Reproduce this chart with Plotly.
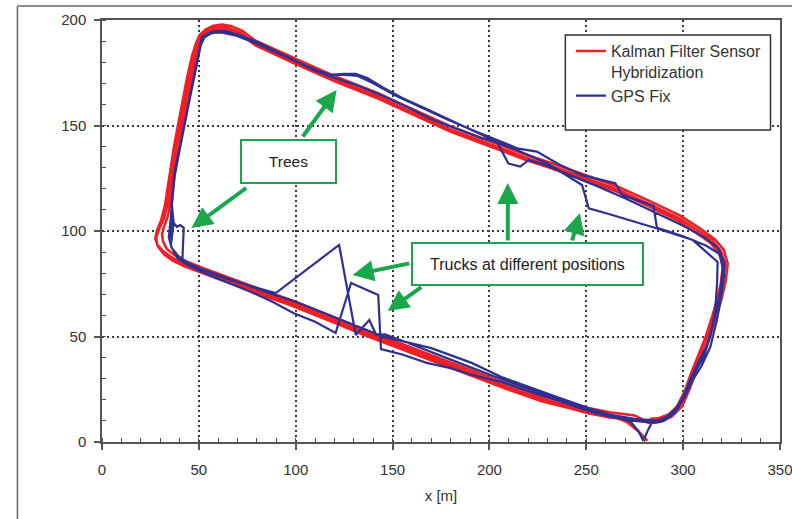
import plotly.graph_objects as go

# ---------------- data ----------------
x_ticks = [0, 50, 100, 150, 200, 250, 300, 350]
y_ticks = [0, 50, 100, 150, 200]

# Kalman filter trajectory, three laps (x [m], y [m])
red_lap1 = [(281.5, 0.5), (277, 5), (271, 9.5), (262, 12.8),
            (251, 14.8), (240, 17.5), (227, 20.5), (210, 26), (190, 33), (170, 40), (151, 46.5), (135, 52),
            (122, 57), (110, 61.5), (97.5, 66), (85, 70), (71.5, 74.5), (60, 78.5), (51, 81.5), (42, 84.5),
            (36, 87.5), (31.5, 90.5), (28.5, 93.5), (28, 97),
            (29.5, 101), (32, 106), (34, 113), (36.5, 129), (38.5, 140), (40.5, 150), (43, 162), (45.5, 174),
            (48, 184), (50, 189.5), (52, 193), (54.5, 195), (58, 196.5),
            (62, 196.8), (66, 196), (72, 193.5), (78.5, 189), (88, 185), (99, 180.5), (110, 176), (120, 172),
            (131, 168), (142, 164), (155, 158.5), (167, 153.5), (179, 148.5), (192, 144), (205, 139.5),
            (218, 135), (231, 131), (248, 125.5), (265, 120), (282, 113), (298, 106), (308, 100),
            (315, 95.5), (319.5, 90.5), (321.5, 84.5),
            (320.5, 76.5), (318.5, 68.5), (316, 60.5), (312.5, 50.5), (309, 42.5), (305.5, 34.5),
            (302, 25.5), (298, 17.5), (293, 13), (287, 10.8), (282, 10.5)]
red_lap2 = [(275, 10.3), (262, 11.6), (251, 13.6), (240, 16.3), (227, 19.3), (210, 24.8), (190, 31.8),
            (170, 38.8), (151, 45.3), (135, 50.8), (122, 55.8), (110, 60.3), (97.5, 64.8), (85, 68.8),
            (71.5, 73.3), (60, 77.3), (51, 80.3), (42.5, 83.3), (36.5, 86), (32, 89), (29, 92.5), (27.5, 96.5),
            (28.5, 100.5), (30.5, 105), (32.5, 112), (35, 128), (37, 139), (39, 149), (41.5, 161), (44, 173),
            (46.5, 183), (48.5, 189), (50.5, 193), (53.5, 195.5), (57.5, 197.3),
            (62, 197.8), (66.5, 197.2), (72.5, 194.8), (79, 190.3), (88.5, 186.3), (99.5, 181.8),
            (110.5, 177.3), (120.5, 173.3), (131.5, 169.3), (142.5, 165.3), (155.5, 159.8), (167.5, 154.8),
            (179.5, 149.8), (192.5, 145.3), (205.5, 140.8), (218.5, 136.3), (231.5, 132.3), (248.5, 126.8),
            (265.5, 121.3), (282.5, 114.3), (298.5, 107.3), (309, 101), (316.5, 96), (321, 91), (323, 84.5),
            (322, 76.5), (320, 68.5), (317.5, 60.5), (314, 50.5), (310.5, 42.5), (307, 34.5),
            (303.5, 25.5), (299.5, 17), (294, 12), (288, 9.5), (282, 9.2)]
red_lap3 = [(275, 12.6), (262, 14.1), (251, 16.1), (240, 18.8), (227, 21.8), (210, 27.3), (190, 34.3),
            (170, 41.3), (151, 47.8), (135, 53.3), (122, 58.3), (110, 62.8), (97.5, 67.3), (85, 71.3),
            (71.5, 75.8), (60, 79.8), (51, 82.8), (43, 85.8), (37.5, 88.5), (33.5, 91.5), (31.5, 95), (31, 98.5),
            (32, 102), (34, 107), (35.5, 114), (38, 130), (40, 141), (42, 151), (44.5, 163), (47, 175),
            (49.5, 185), (51.5, 190), (53.5, 193), (56, 194.8), (59.5, 195.5),
            (63, 195.6), (67, 194.8), (73, 192.2), (79.5, 187.8), (88.5, 183.8), (99.5, 179.3),
            (110.5, 174.8), (120.5, 170.8), (131.5, 166.8), (142.5, 162.8), (155.5, 157.3), (167.5, 152.3),
            (179.5, 147.3), (192.5, 142.8), (205.5, 138.3), (218.5, 133.8), (231.5, 129.8), (248.5, 124.3),
            (265.5, 118.8), (282, 111.8), (297.5, 104.8), (307, 99), (314, 94.5), (318.5, 89.5), (320.5, 83.5),
            (319.5, 75.5), (317.5, 67.5), (315, 59.5), (311.5, 49.5), (308, 41.5), (304.5, 33.5),
            (301, 24.5), (297, 17), (292.5, 13), (287, 11.2), (283, 11)]

# GPS fixes, three laps (x [m], y [m])
blue_lap1 = [(279.5, 0.5), (277, 5), (273, 9.5), (266, 12), (252, 15.5), (238, 19.5), (224, 24), (207, 29.5),
             (190, 35.5), (172, 42), (155, 48), (146, 51), (141.6, 50.7), (138, 57.8), (131, 50.7),
             (122.4, 93.4), (89.7, 70.6), (78, 73.5), (64, 77.5), (52, 81.5), (44.5, 84.5), (41.5, 86.3),
             (42.2, 101.5), (40.4, 102.8), (38.7, 102), (37, 103.8), (35.6, 93.4), (36.1, 112.3),
             (37.5, 126), (40, 138), (42.5, 150), (45, 162), (47.5, 174), (50, 186), (51.6, 192), (56, 194),
             (62, 194), (70, 192.5), (78, 190.5), (88, 186), (99, 181), (108, 177), (117, 174), (125, 174.5),
             (131, 174.5), (137, 172.5), (145, 168), (155, 163), (167, 158), (180, 152.5), (193, 147),
             (203.8, 142.3), (209.8, 132), (215.9, 130.5), (220.2, 133.6), (228, 131.5), (240, 127),
             (255, 121.5), (270, 115.5), (285, 109), (300, 102.5), (311, 97), (318, 92), (321.5, 85),
             (321, 78), (319.5, 68), (317.5, 58), (314, 45), (309.5, 36), (305, 29.4), (300.5, 21), (296, 14),
             (290, 10), (285, 9)]
blue_lap2 = [(275, 10), (262, 12), (250, 15), (236, 19.5), (222, 23.5), (206, 28.5), (190, 32), (180, 35),
             (167.6, 37.5), (155, 41.5), (144, 44), (142.6, 69.7), (128.6, 75.4), (120.6, 51.7), (110, 57),
             (99, 61), (88, 66.5), (76, 71.5), (64, 76), (53, 80), (45, 83.5), (39, 87), (35.5, 93),
             (37, 104), (36, 113), (37.5, 128), (40.5, 141), (43, 153), (46, 167), (48.5, 178), (50.5, 187),
             (52.5, 191.5), (56, 193.5), (61, 194.5), (68, 193), (78, 189.5), (89, 185), (100, 180.5),
             (110, 176.5), (118, 174), (126, 174), (132, 173.5), (140, 170), (152, 164), (165, 158.5),
             (178, 153), (192, 147.5), (205, 142.5), (215, 139), (224.5, 137.6), (236, 131.5),
             (247.8, 126.5), (265, 122.6), (268.6, 117), (284.6, 112), (286.5, 101.5), (300, 97.5),
             (312, 93), (319, 89), (320.5, 82), (319, 70), (316, 58), (312.5, 46), (307.5, 37), (303.5, 29),
             (299, 19), (293, 12.5), (287, 10), (281, 10.5)]
blue_lap3 = [(275, 11), (262, 13), (250, 16.5), (236, 21), (222, 25.5), (207, 30.5), (190.8, 37.5), (170, 44.5),
             (145.7, 49.8), (133, 54.5), (120, 59), (100, 66.5), (85, 71), (71.5, 75.3), (60, 79), (50, 82.5),
             (44, 85), (39, 88.5), (36, 92), (34.5, 97), (35.5, 106), (36.5, 118), (38, 130), (40.5, 141),
             (43.5, 155), (46.5, 168), (49, 180), (51, 188), (53, 192), (57, 194.5), (63, 195), (72, 192.5),
             (80, 189.5), (90, 185), (100, 180.5), (110, 176), (120, 172.5), (132, 169), (145, 164),
             (158, 158.5), (170, 153), (184, 148), (196, 144), (204, 142), (215, 138), (230, 132),
             (247.8, 121.8), (251.3, 110.7), (263.4, 107.6), (285.7, 101.4), (305, 95.7), (317.8, 85.3),
             (317.5, 75), (316.5, 62), (314, 50), (310.5, 40), (306, 33), (301, 23), (296, 15.5), (290, 11),
             (284, 9.5), (281.5, 5), (279.5, 0.5)]

series_names = ["Kalman Filter Sensor<br>Hybridization", "GPS Fix"]

# annotation boxes: (text, x, y, box width px, box height px, font size)
boxes = [("Trees", 96.1, 132.9, 97, 45, 15.5),
         ("Trucks at different positions", 219.6, 84.4, 233, 44, 16)]
# arrows: (tip x, tip y, tail x, tail y)
arrows = [(121.1, 166.8, 103.1, 144.1),
          (46.2, 101.4, 75.2, 120.9),
          (129.4, 79.1, 159.4, 84.8),
          (147.5, 62.1, 165.6, 73.9),
          (209.5, 122.7, 209.5, 94.8),
          (246.7, 108.5, 242.5, 94.8)]

# ---------------- figure ----------------
RED = "#ef1f26"
BLUE = "#2e3192"
GREEN = "#1aa64b"
AXIS = "#555555"

red_pts = red_lap1 + red_lap2 + red_lap3
blue_pts = blue_lap1 + blue_lap2 + blue_lap3

fig = go.Figure()
fig.add_trace(go.Scatter(x=[p[0] for p in red_pts], y=[p[1] for p in red_pts], mode="lines",
                         name=series_names[0], line=dict(color=RED, width=2.6)))
fig.add_trace(go.Scatter(x=[p[0] for p in blue_pts], y=[p[1] for p in blue_pts], mode="lines",
                         name=series_names[1], line=dict(color=BLUE, width=2.2)))

axis_common = dict(showgrid=True, gridcolor="#3a3a3a", griddash="2px,3px", gridwidth=1.7,
                   showline=True, linecolor=AXIS, linewidth=1.5, mirror=True,
                   ticks="outside", ticklen=6, tickwidth=1.5, tickcolor=AXIS,
                   zeroline=False, automargin=False, ticklabeloverflow="allow",
                   tickfont=dict(size=15, color="#333333"),
                   minor=dict(ticks="inside", ticklen=4, tickwidth=1.3, tickcolor=AXIS, showgrid=False))

fig.update_xaxes(range=[0, 350], tickvals=x_ticks, ticklabelstandoff=7,
                 title=dict(text="x [m]", font=dict(size=15, color="#333333"), standoff=14), **axis_common)
fig.update_xaxes(minor_dtick=10, minor_tick0=0)
fig.update_yaxes(range=[0, 200], tickvals=y_ticks, ticklabelstandoff=5, **axis_common)
fig.update_yaxes(minor_dtick=10, minor_tick0=0)

annotations = []
for tx, ty, ax, ay in arrows:
    annotations.append(dict(x=tx, y=ty, ax=ax, ay=ay, xref="x", yref="y", axref="x", ayref="y",
                            text="", showarrow=True, arrowhead=2, arrowsize=1.05, arrowwidth=4,
                            arrowcolor=GREEN, standoff=0))
for text, bx, by, bw, bh, fs in boxes:
    annotations.append(dict(x=bx, y=by, xref="x", yref="y", text=text, showarrow=False,
                            width=bw - 4, height=bh - 4, bgcolor="white", bordercolor=GREEN,
                            borderwidth=2, borderpad=0, font=dict(size=fs, color="#222222"),
                            align="center", valign="middle"))

shapes = [
    # legend frame
    dict(type="rect", xref="paper", yref="paper", x0=0.6834, x1=0.9860, y0=0.7393, y1=0.9645,
         fillcolor="white", line=dict(color="#333333", width=1.5), layer="above"),
    # outer figure frame (left and top)
    dict(type="line", xref="paper", yref="paper", x0=-0.1247, x1=-0.1247, y0=1.0332, y1=-0.2,
         line=dict(color="#666666", width=1.5)),
    dict(type="line", xref="paper", yref="paper", x0=-0.1247, x1=1.05, y0=1.0332, y1=1.0332,
         line=dict(color="#666666", width=1.5)),
]

fig.update_layout(
    width=792, height=519,
    margin=dict(l=102, r=12, t=20, b=77, autoexpand=False),
    plot_bgcolor="white", paper_bgcolor="white",
    font=dict(family="Liberation Sans, Arial, sans-serif", size=15, color="#333333"),
    legend=dict(x=0.6916, y=0.9665, xanchor="left", yanchor="top", bgcolor="rgba(0,0,0,0)",
                borderwidth=0, font=dict(size=16, color="#333333"), valign="top",
                itemwidth=30),
    annotations=annotations,
    shapes=shapes,
)

fig.write_html("out.html")
